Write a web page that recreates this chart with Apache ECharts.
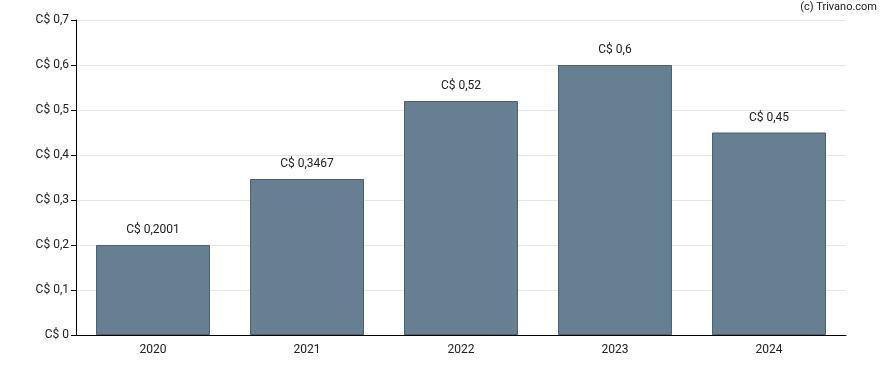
<!DOCTYPE html>
<html><head><meta charset="utf-8">
<script src="https://cdn.jsdelivr.net/npm/echarts@6/dist/echarts.min.js"></script>
<style>html,body{margin:0;padding:0;background:#fff}#c{width:888px;height:370px}</style>
</head><body><div id="c"></div>
<script>
const categories = ['2020','2021','2022','2023','2024'];
const values = [0.2001, 0.3467, 0.52, 0.6, 0.45];
const yTicks = [0, 0.1, 0.2, 0.3, 0.4, 0.5, 0.6, 0.7];

function fmt(v){ return 'C$ ' + String(v).replace('.', ','); }

const chart = echarts.init(document.getElementById('c'), null, {renderer:'canvas'});
chart.setOption({
  animation:false,
  textStyle:{fontFamily:'Roboto, Arial, sans-serif'},
  graphic:[{type:'text', right:11, top:2, style:{text:'(c) Trivano.com', fill:'#222', font:'11px Roboto, Arial, sans-serif'}}],
  grid:{left:76, right:42, top:20, bottom:35},
  xAxis:{type:'category', data:categories,
    axisLine:{lineStyle:{color:'#000', width:1}},
    axisTick:{alignWithLabel:true, length:5, lineStyle:{color:'#000'}},
    axisLabel:{color:'#222', fontSize:12, margin:9}},
  yAxis:{type:'value', min:yTicks[0], max:yTicks[yTicks.length-1], interval:0.1,
    axisLine:{show:true, lineStyle:{color:'#000'}},
    axisTick:{show:true, length:5, lineStyle:{color:'#000'}},
    splitLine:{lineStyle:{color:'#e6e6e6'}},
    axisLabel:{color:'#222', fontSize:12, margin:7, formatter:v=>fmt(Math.round(v*10)/10)}},
  series:[{type:'bar', data:values, barWidth:'74%',
    itemStyle:{color:'#667f91', borderColor:'#4a6173', borderWidth:1},
    label:{show:true, position:'top', distance:9, color:'#222', fontSize:12, formatter:p=>fmt(p.value)}}]
});
</script></body></html>
